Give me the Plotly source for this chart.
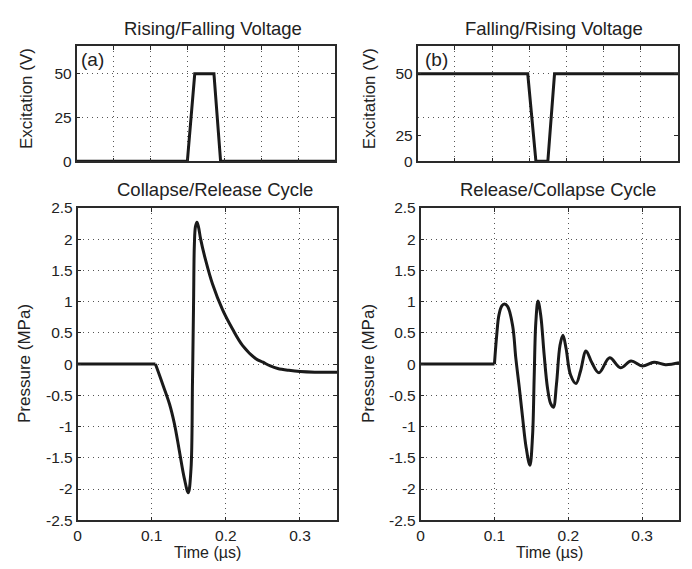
import plotly.graph_objects as go

# ---------------- data ----------------
t_exc_a = [0, 0.15, 0.16, 0.186, 0.195, 0.35]
v_exc_a = [0, 0, 50, 50, 0, 0]

t_exc_b = [0, 0.148, 0.159, 0.175, 0.184, 0.35]
v_exc_b = [50, 50, 0, 0, 50, 50]

t_p_a = [0, 0.105, 0.115, 0.124, 0.1305, 0.137, 0.144, 0.1493, 0.153, 0.155,
         0.1565, 0.1575, 0.159, 0.161, 0.163, 0.166, 0.173, 0.182, 0.1955,
         0.209, 0.2224, 0.240, 0.25, 0.26, 0.27, 0.285, 0.30, 0.32, 0.35]
p_a = [0, 0, -0.33, -0.64, -0.95, -1.37, -1.83, -2.06, -1.68, -0.28,
       1.02, 1.9, 2.2, 2.27, 2.2, 2.0, 1.65, 1.28, 0.87,
       0.56, 0.30, 0.09, 0.03, -0.03, -0.07, -0.10, -0.12, -0.13, -0.13]

t_p_b = [0, 0.1, 0.103, 0.106, 0.110, 0.1135, 0.118, 0.1247, 0.129, 0.1336, 0.138,
         0.1426, 0.148, 0.1516, 0.1538, 0.156, 0.159, 0.1628, 0.1673, 0.1717,
         0.176, 0.1798, 0.184, 0.1888, 0.1928, 0.197, 0.203, 0.2105, 0.2166,
         0.224, 0.232, 0.2415, 0.256, 0.2707, 0.285, 0.3004, 0.316, 0.3316, 0.35]
p_b = [0, 0, 0.45, 0.78, 0.93, 0.96, 0.92, 0.61, 0.09, -0.37, -0.84,
       -1.31, -1.62, -1.15, -0.22, 0.66, 1.01, 0.77, 0.15, -0.37,
       -0.63, -0.69, -0.32, 0.30, 0.46, 0.25, -0.17, -0.31, -0.11,
       0.21, 0.02, -0.14, 0.10, -0.06, 0.05, -0.03, 0.03, -0.01, 0.02]

exc_ticks_a = [0, 25, 50]
exc_ticktext_a = ["0", "25", "50"]
exc_ticks_b = [0, 15, 50]
exc_ticktext_b = ["0", "25", "50"]
exc_grid = [25, 50]
top_xgrid = [0.05, 0.10, 0.15, 0.20, 0.25, 0.30]

time_ticks = [0, 0.1, 0.2, 0.3]
time_ticktext = ["0", "0.1", "0.2", "0.3"]
p_ticks = [-2.5, -2, -1.5, -1, -0.5, 0, 0.5, 1, 1.5, 2, 2.5]
p_ticktext = ["-2.5", "-2", "-1.5", "-1", "-0.5", "0", "0.5", "1", "1.5", "2", "2.5"]

titles = ["Rising/Falling Voltage", "Falling/Rising Voltage",
          "Collapse/Release Cycle", "Release/Collapse Cycle"]

# ---------------- figure ----------------
W, H = 692, 569
FONT = "Liberation Sans, Arial, Helvetica, sans-serif"
INK = "#1a1a1a"
LINE = dict(color=INK, width=3)
SPL = dict(color=INK, width=3, shape="spline", smoothing=1.0)

def px(x):
    return x / W

def py(y):
    return 1 - y / H

fig = go.Figure()
fig.add_trace(go.Scatter(x=t_exc_a, y=v_exc_a, mode="lines", line=LINE,
                         xaxis="x", yaxis="y", cliponaxis=False, showlegend=False))
fig.add_trace(go.Scatter(x=t_exc_b, y=v_exc_b, mode="lines", line=LINE,
                         xaxis="x2", yaxis="y2", cliponaxis=False, showlegend=False))
# flat pre-trigger part (straight) + smooth response (spline)
fig.add_trace(go.Scatter(x=t_p_a[:2], y=p_a[:2], mode="lines", line=LINE,
                         xaxis="x3", yaxis="y3", showlegend=False))
fig.add_trace(go.Scatter(x=t_p_a[1:], y=p_a[1:], mode="lines", line=SPL,
                         xaxis="x3", yaxis="y3", showlegend=False))
fig.add_trace(go.Scatter(x=t_p_b[:2], y=p_b[:2], mode="lines", line=LINE,
                         xaxis="x4", yaxis="y4", showlegend=False))
fig.add_trace(go.Scatter(x=t_p_b[1:], y=p_b[1:], mode="lines", line=SPL,
                         xaxis="x4", yaxis="y4", showlegend=False))

GRID = dict(gridcolor="#555555", griddash="1px,4px", gridwidth=1)
AX = dict(showline=True, linecolor="#2a2a2a", linewidth=1.5, mirror="allticks",
          ticks="inside", ticklen=4, tickcolor="#2a2a2a", zeroline=False,
          tickfont=dict(family=FONT, size=15.5, color="#222"))

def xax(dom, anchor, vals, text, show):
    d = dict(AX)
    d.update(domain=dom, anchor=anchor, range=[0, 0.35], tickmode="array",
             tickvals=vals, ticktext=text, showticklabels=show, showgrid=True, **GRID)
    return d

top_y = [py(157), py(38)]
bot_y = [py(527), py(205)]

fig.update_layout(
    width=W, height=H, margin=dict(l=0, r=0, t=0, b=0),
    paper_bgcolor="white", plot_bgcolor="white",
    font=dict(family=FONT, color="#222"),
    xaxis=xax([px(73), px(333)], "y", [0] + top_xgrid, [""] * 7, False),
    xaxis2=xax([px(416), px(678)], "y2", [0] + top_xgrid, [""] * 7, False),
    xaxis3=xax([px(74), px(335)], "y3", time_ticks, time_ticktext, True),
    xaxis4=xax([px(419), px(679)], "y4", time_ticks, time_ticktext, True),
    yaxis=dict(AX, domain=top_y, anchor="x", range=[0, 66], tickmode="array",
               tickvals=exc_ticks_a, ticktext=exc_ticktext_a, showgrid=True, **GRID),
    yaxis2=dict(AX, domain=top_y, anchor="x2", range=[0, 66], tickmode="array",
                tickvals=exc_ticks_b, ticktext=exc_ticktext_b, showgrid=False,
                minor=dict(tickmode="array", tickvals=exc_grid, showgrid=True,
                           ticks="", **GRID)),
    yaxis3=dict(AX, domain=bot_y, anchor="x3", range=[-2.5, 2.5], tickmode="array",
                tickvals=p_ticks, ticktext=p_ticktext, showgrid=True, **GRID),
    yaxis4=dict(AX, domain=bot_y, anchor="x4", range=[-2.5, 2.5], tickmode="array",
                tickvals=p_ticks, ticktext=p_ticktext, showgrid=True, **GRID),
)

def ann(text, x, y, size, angle=0):
    fig.add_annotation(text=text, x=px(x), y=py(y), xref="paper", yref="paper",
                       showarrow=False, textangle=angle, xanchor="center", yanchor="middle",
                       font=dict(family=FONT, size=size, color="#222"))

ann(titles[0], 210, 20, 18.5)
ann(titles[1], 553, 20, 18.5)
ann(titles[2], 212, 186, 18.5)
ann(titles[3], 557, 186, 18.5)
ann("Excitation (V)", 22, 92, 17, -90)
ann("Excitation (V)", 367, 92, 17, -90)
ann("Pressure (MPa)", 20, 365, 17, -90)
ann("Pressure (MPa)", 366, 365, 17, -90)
ann("Time (µs)", 205, 560, 16)
ann("Time (µs)", 549, 560, 16)
ann("(a)", 89, 52, 19)
ann("(b)", 435, 52, 19)

fig.write_html("out.html", config={"displayModeBar": False},
               post_script="document.body.style.margin='0';document.body.style.overflow='hidden';")
